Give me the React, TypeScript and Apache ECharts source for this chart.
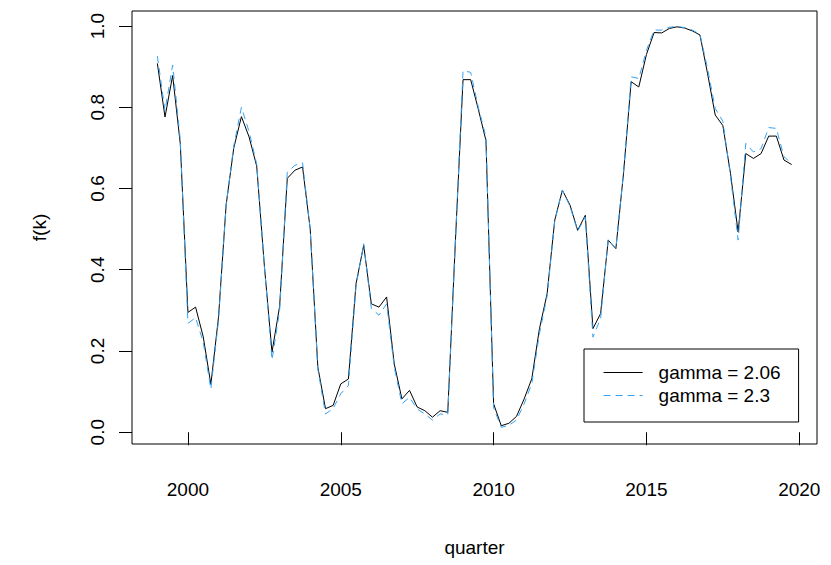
import React, { useEffect, useRef } from "react";
import * as echarts from "echarts";

const startYear = 1999;
const quarters: number[] = Array.from({ length: 84 }, (_, i) => startYear + i / 4);

const gamma206: number[] = [
  0.908, 0.776, 0.878, 0.71, 0.295, 0.308, 0.235, 0.118, 0.283, 0.56,
  0.70, 0.777, 0.727, 0.655, 0.41, 0.197, 0.31, 0.625, 0.645, 0.653,
  0.50, 0.16, 0.058, 0.066, 0.119, 0.131, 0.366, 0.46, 0.316, 0.308,
  0.333, 0.168, 0.082, 0.103, 0.062, 0.053, 0.037, 0.053, 0.049, 0.47,
  0.868, 0.868, 0.795, 0.718, 0.07, 0.016, 0.022, 0.039, 0.082, 0.132,
  0.255, 0.341, 0.522, 0.596, 0.559, 0.497, 0.534, 0.255, 0.292, 0.473,
  0.452, 0.637, 0.863, 0.85, 0.93, 0.984, 0.983, 0.994, 0.998, 0.995,
  0.988, 0.978, 0.883, 0.781, 0.755, 0.637, 0.493, 0.686, 0.674, 0.686,
  0.729, 0.729, 0.67, 0.659,
];

const gamma23: number[] = [
  0.926, 0.792, 0.904, 0.72, 0.268, 0.282, 0.222, 0.106, 0.275, 0.56,
  0.705, 0.80, 0.74, 0.66, 0.41, 0.178, 0.30, 0.64, 0.657, 0.663,
  0.50, 0.155, 0.045, 0.058, 0.095, 0.115, 0.36, 0.464, 0.305, 0.288,
  0.316, 0.16, 0.07, 0.086, 0.057, 0.045, 0.03, 0.045, 0.043, 0.47,
  0.89, 0.886, 0.80, 0.727, 0.06, 0.012, 0.017, 0.03, 0.07, 0.12,
  0.243, 0.335, 0.52, 0.596, 0.556, 0.495, 0.53, 0.234, 0.28, 0.475,
  0.452, 0.64, 0.875, 0.871, 0.94, 0.99, 0.99, 0.997, 0.999, 0.996,
  0.99, 0.98, 0.895, 0.797, 0.766, 0.63, 0.473, 0.711, 0.69, 0.698,
  0.75, 0.748, 0.678, 0.662,
];

const xTicks: number[] = [2000, 2005, 2010, 2015, 2020];
const yTicks: number[] = [0, 0.2, 0.4, 0.6, 0.8, 1.0];
const seriesNames: string[] = ["gamma = 2.06", "gamma = 2.3"];

const FONT = "'Liberation Sans', Arial, sans-serif";
const BLUE = "#35A2F4";

export default function App() {
  const ref = useRef<HTMLDivElement>(null);
  useEffect(() => {
    document.body.style.margin = "0";
    if (!ref.current) return;
    const chart = echarts.init(ref.current, undefined, { renderer: "svg" });
    chart.setOption({
      animation: false,
      backgroundColor: "#fff",
      textStyle: { fontFamily: FONT },
      grid: {
        left: 132,
        right: 14,
        top: 11,
        bottom: 121,
        show: true,
        borderColor: "#000",
        borderWidth: 1,
        backgroundColor: "transparent",
        containLabel: false,
      },
      xAxis: {
        type: "value",
        min: 1998.17,
        max: 2020.58,
        name: "quarter",
        nameLocation: "middle",
        nameGap: 94,
        nameTextStyle: { fontSize: 19, color: "#000", fontFamily: FONT },
        axisLine: { show: false },
        splitLine: { show: false },
        axisTick: {
          show: true,
          length: 13,
          customValues: xTicks,
          lineStyle: { color: "#000", width: 1 },
        },
        axisLabel: {
          customValues: xTicks,
          fontSize: 19,
          color: "#000",
          fontFamily: FONT,
          margin: 36,
          formatter: (v: number) => String(Math.round(v)),
        },
      },
      yAxis: {
        type: "value",
        min: -0.029,
        max: 1.037,
        name: "f(k)",
        nameLocation: "middle",
        nameRotate: 90,
        nameGap: 83,
        nameTextStyle: { fontSize: 19, color: "#000", fontFamily: FONT },
        axisLine: { show: false },
        splitLine: { show: false },
        axisTick: {
          show: true,
          length: 13,
          customValues: yTicks,
          lineStyle: { color: "#000", width: 1 },
        },
        axisLabel: {
          customValues: yTicks,
          rotate: 90,
          fontSize: 19,
          color: "#000",
          fontFamily: FONT,
          margin: 25,
          formatter: (v: number) => v.toFixed(1),
        },
      },
      legend: {
        orient: "vertical",
        left: 584,
        top: 349,
        selectedMode: false,
        itemWidth: 39,
        itemHeight: 14,
        itemGap: 4,
        padding: [14, 18, 17, 19],
        borderColor: "#000",
        borderWidth: 1,
        borderRadius: 0,
        backgroundColor: "#fff",
        itemStyle: { opacity: 0 },
        lineStyle: { width: 1.2 },
        textStyle: { fontSize: 19, color: "#000", fontFamily: FONT, padding: [0, 0, 0, 11] },
        data: seriesNames,
      },
      series: [
        {
          name: seriesNames[0],
          type: "line",
          data: quarters.map((q, i) => [q, gamma206[i]]),
          symbol: "none",
          showSymbol: false,
          lineStyle: { color: "#000", width: 1, type: "solid" },
          itemStyle: { color: "#000" },
          z: 2,
        },
        {
          name: seriesNames[1],
          type: "line",
          data: quarters.map((q, i) => [q, gamma23[i]]),
          symbol: "none",
          showSymbol: false,
          lineStyle: { color: BLUE, width: 1, type: [7, 5] },
          itemStyle: { color: BLUE },
          z: 3,
        },
      ],
    });
    return () => chart.dispose();
  }, []);
  return <div ref={ref} style={{ width: 831, height: 565 }} />;
}
